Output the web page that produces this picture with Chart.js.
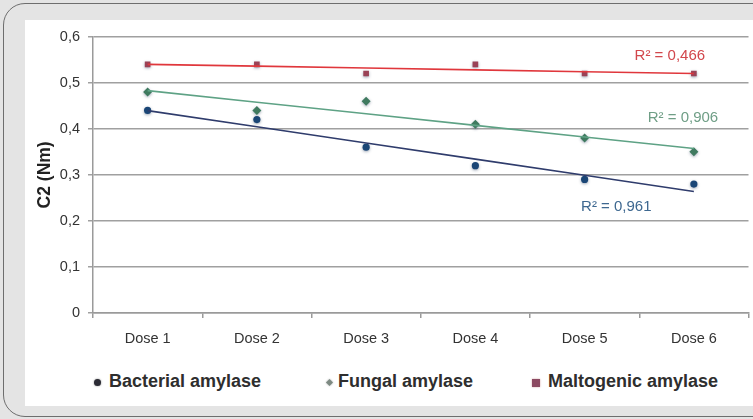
<!DOCTYPE html>
<html>
<head>
<meta charset="utf-8">
<script src="https://cdn.jsdelivr.net/npm/chart.js@4.4.1/dist/chart.umd.min.js"></script>
<style>
  html, body { margin: 0; padding: 0; }
  body { width: 753px; height: 419px; background: #e4e4e4; position: relative; overflow: hidden; font-family: "Liberation Sans", Arial, sans-serif; }
  #frame { position: absolute; left: 3px; top: 3px; width: 780px; height: 412px; border: 1.5px solid #6e6e6e; border-radius: 22px; }
  #panel { position: absolute; left: 25px; top: 20px; width: 728px; height: 386px; background: #fff; }
  #chartWrap { position: absolute; left: 0; top: 0; width: 728px; height: 350px; }
  #legend { position: absolute; top: 350px; left: 0; width: 728px; height: 30px; font-weight: bold; font-size: 18px; color: #2e2e2e; }
  .txt { position: absolute; top: 1px; white-space: nowrap; }
  .mk { position: absolute; }
</style>
</head>
<body>
<div id="frame"></div>
<div id="panel">
  <div id="chartWrap"><canvas id="c2Chart"></canvas></div>
  <div id="legend">
    <span class="mk" style="left:69px;top:9px;width:7px;height:7px;background:#2c2c35;border-radius:50%;box-shadow:0 0 2px #888"></span>
    <span class="txt" style="left:84px">Bacterial amylase</span>
    <span class="mk" style="left:302px;top:10px;width:5px;height:5px;background:#7d8a82;transform:rotate(45deg);box-shadow:0 0 2px #aaa"></span>
    <span class="txt" style="left:313px">Fungal amylase</span>
    <span class="mk" style="left:507px;top:9px;width:8px;height:8px;background:#8c4a62;box-shadow:0 0 2px #c99"></span>
    <span class="txt" style="left:523px">Maltogenic amylase</span>
  </div>
</div>
<script>
const doses = ["Dose 1", "Dose 2", "Dose 3", "Dose 4", "Dose 5", "Dose 6"];
const bacterial = [0.44, 0.42, 0.36, 0.32, 0.29, 0.28];
const fungal = [0.48, 0.44, 0.46, 0.41, 0.38, 0.35];
const maltogenic = [0.54, 0.54, 0.52, 0.54, 0.52, 0.52];
const yTicks = [0, 0.1, 0.2, 0.3, 0.4, 0.5, 0.6];
// R² labels: [text, x (category index), y (value), colour]
const r2Labels = [
  ["R² = 0,466", 4.78, 0.559, "#d2474c"],
  ["R² = 0,906", 4.9, 0.424, "#6f9e86"],
  ["R² = 0,961", 4.29, 0.230, "#3e6890"]
];

// least squares trend line through a series
function trend(values) {
  const n = values.length;
  const xs = values.map((v, i) => i + 1);
  const mx = xs.reduce((a, b) => a + b, 0) / n;
  const my = values.reduce((a, b) => a + b, 0) / n;
  let sxy = 0, sxx = 0;
  xs.forEach((x, i) => { sxy += (x - mx) * (values[i] - my); sxx += (x - mx) * (x - mx); });
  const slope = sxy / sxx;
  return xs.map(x => my + slope * (x - mx));
}

const shadowPlugin = {
  id: "markerShadow",
  beforeDatasetDraw(chart, args) {
    if (chart.data.datasets[args.index].showLine === false) {
      chart.ctx.save();
      chart.ctx.shadowColor = "rgba(40,60,90,0.45)";
      chart.ctx.shadowBlur = 3;
      chart.ctx.shadowOffsetY = 1;
    }
  },
  afterDatasetDraw(chart, args) {
    if (chart.data.datasets[args.index].showLine === false) {
      chart.ctx.restore();
    }
  }
};

const r2Plugin = {
  id: "r2Labels",
  afterDatasetsDraw(chart) {
    const ctx = chart.ctx;
    const xs = chart.scales.x, ys = chart.scales.y;
    ctx.save();
    ctx.font = "15px 'Liberation Sans', Arial, sans-serif";
    ctx.textAlign = "center";
    ctx.textBaseline = "middle";
    r2Labels.forEach(([txt, xi, yv, col]) => {
      const i0 = Math.floor(xi), i1 = Math.min(i0 + 1, doses.length - 1);
      const p0 = xs.getPixelForValue(i0), p1 = xs.getPixelForValue(i1);
      const px = p0 + (p1 - p0) * (xi - i0);
      ctx.fillStyle = col;
      ctx.fillText(txt, px, ys.getPixelForValue(yv));
    });
    ctx.restore();
  }
};

const tickFont = { size: 14.5, family: "'Liberation Sans', Arial, sans-serif" };

new Chart(document.getElementById("c2Chart"), {
  type: "line",
  data: {
    labels: doses,
    datasets: [
      { data: trend(maltogenic), borderColor: "#e0373c", borderWidth: 1.6, pointRadius: 0, fill: false },
      { data: trend(fungal), borderColor: "#5ea285", borderWidth: 1.6, pointRadius: 0, fill: false },
      { data: trend(bacterial), borderColor: "#2f3c6c", borderWidth: 1.6, pointRadius: 0, fill: false },
      { label: "Maltogenic amylase", data: maltogenic, showLine: false, pointStyle: "rect", pointRadius: 4, backgroundColor: "#9a4256", borderColor: "#9a4256", borderWidth: 0 },
      { label: "Fungal amylase", data: fungal, showLine: false, pointStyle: "rectRot", pointRadius: 4.5, backgroundColor: "#3f7a5f", borderColor: "#3f7a5f", borderWidth: 0 },
      { label: "Bacterial amylase", data: bacterial, showLine: false, pointStyle: "circle", pointRadius: 3.6, backgroundColor: "#1a4676", borderColor: "#1a4676", borderWidth: 0 }
    ]
  },
  options: {
    responsive: true,
    maintainAspectRatio: false,
    animation: false,
    layout: { padding: { top: 12, right: 4, left: 0, bottom: 0 } },
    plugins: { legend: { display: false }, tooltip: { enabled: false } },
    scales: {
      x: {
        offset: true,
        grid: { drawOnChartArea: false, offset: true, tickLength: 5, color: "#9a9a9a", lineWidth: 1.5 },
        border: { color: "#9a9a9a", width: 1.5 },
        ticks: { color: "#333", font: tickFont, padding: 12 },
        afterFit: s => { s.height = 57; }
      },
      y: {
        min: 0, max: 0.6,
        afterBuildTicks: s => { s.ticks = yTicks.map(v => ({ value: v })); },
        grid: { color: "#a0a0a0", lineWidth: 1.5, tickLength: 5 },
        border: { color: "#9a9a9a", width: 1.5 },
        ticks: {
          color: "#333", font: tickFont, padding: 8,
          callback: v => v === 0 ? "0" : v.toFixed(1).replace(".", ",")
        },
        title: { display: true, text: "C2 (Nm)", color: "#222", font: { size: 17.5, weight: "bold", family: "'Liberation Sans', Arial, sans-serif" }, padding: { top: 10, bottom: 4 } },
        afterFit: s => { s.width = 68; }
      }
    }
  },
  plugins: [shadowPlugin, r2Plugin]
});
</script>
</body>
</html>
